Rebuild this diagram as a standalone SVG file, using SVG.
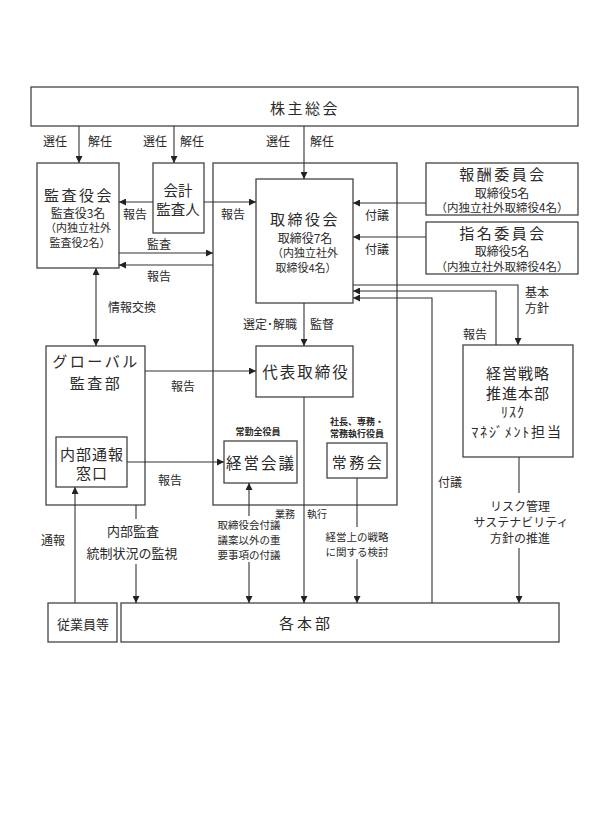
<svg xmlns="http://www.w3.org/2000/svg" width="608" height="820" viewBox="0 0 608 820">
<defs>
<marker id="ah" viewBox="0 0 8 8" refX="8" refY="4" markerWidth="7" markerHeight="7" markerUnits="userSpaceOnUse" orient="auto-start-reverse">
<path d="M0,0 L8,4 L0,8 z" fill="#222"/>
</marker>
<style>
.box{fill:#fff;stroke:#444;stroke-width:1.3}
.frame{fill:none;stroke:#444;stroke-width:1.3}
.ln{fill:none;stroke:#333;stroke-width:1.1}
.a{marker-end:url(#ah)}
.d{marker-start:url(#ah);marker-end:url(#ah)}
text{font-family:"Noto Sans CJK JP","Noto Sans",sans-serif;fill:#2a2a2a;text-anchor:middle;dominant-baseline:central}
.t1{font-size:15px;letter-spacing:2.5px}
.t2{font-size:12px}
.t3{font-size:11px}
.lb{font-size:12px}
.sm{font-size:10.5px}
.bd{font-size:9px;font-weight:bold}
</style>
</defs>
<rect width="608" height="820" fill="#fff"/>

<g id="frame-exec"><rect class="frame" x="213" y="163" width="184" height="342"/></g>

<g id="kabunushi"><rect class="box" x="31" y="87" width="547" height="39"/><text class="t1" x="305" y="107">株主総会</text></g>

<g id="kansayakukai"><rect class="box" x="37" y="163" width="82" height="105"/>
<text class="t1" x="79" y="194">監査役会</text>
<text class="t2" x="78" y="212">監査役3名</text>
<text class="t3" x="78" y="227">（内独立社外</text>
<text class="t3" x="80" y="242">監査役2名）</text></g>

<g id="kaikei"><rect class="box" x="153" y="163" width="51" height="70"/>
<text x="178" y="189" style="font-size:14.5px">会計</text>
<text x="178" y="208" style="font-size:14.5px">監査人</text></g>

<g id="torishimariyakukai"><rect class="box" x="256" y="179" width="97" height="124"/>
<text class="t1" x="305" y="218">取締役会</text>
<text class="t2" x="305" y="237">取締役7名</text>
<text class="t3" x="305" y="252">（内独立社外</text>
<text class="t3" x="306" y="267">取締役4名）</text></g>

<g id="hoshu"><rect class="box" x="426" y="163" width="152" height="52"/>
<text class="t1" x="503" y="173">報酬委員会</text>
<text class="t2" x="502" y="192">取締役5名</text>
<text x="502" y="207" style="font-size:11.5px">（内独立社外取締役4名）</text></g>

<g id="shimei"><rect class="box" x="426" y="222" width="152" height="52"/>
<text class="t1" x="503" y="232">指名委員会</text>
<text class="t2" x="502" y="250">取締役5名</text>
<text x="502" y="266" style="font-size:11.5px">（内独立社外取締役4名）</text></g>

<g id="daihyo"><rect class="box" x="256" y="346" width="97" height="51"/>
<text x="306" y="371" style="font-size:15.5px;letter-spacing:2px">代表取締役</text></g>

<g id="keieikaigi"><text class="bd" x="258" y="431">常勤全役員</text>
<rect class="box" x="224" y="441" width="73" height="42"/>
<text x="261" y="462" style="font-size:15.5px;letter-spacing:2px">経営会議</text></g>

<g id="jomukai"><text class="bd" x="357" y="421">社長、専務・</text>
<text class="bd" x="357" y="433">常務執行役員</text>
<rect class="box" x="327" y="443" width="60" height="35"/>
<text x="358" y="461" style="font-size:15px;letter-spacing:2.5px">常務会</text></g>

<g id="keieisenryaku"><rect class="box" x="463" y="345" width="110" height="112"/>
<text x="518" y="372" style="font-size:15px;letter-spacing:1px">経営戦略</text>
<text x="518" y="392" style="font-size:15px;letter-spacing:1px">推進本部</text>
<text x="513" y="411" style="font-size:14px;letter-spacing:1px">ﾘｽｸ</text>
<text x="517" y="431" style="font-size:14px;letter-spacing:1.8px">ﾏﾈｼﾞﾒﾝﾄ担当</text></g>

<g id="global"><rect class="box" x="46" y="346" width="99" height="159"/>
<text class="t1" x="96" y="360">グローバル</text>
<text class="t1" x="96" y="382">監査部</text></g>

<g id="naibutsuho"><rect class="box" x="56" y="437" width="71" height="50"/>
<text x="92" y="453" style="font-size:15px;letter-spacing:1px">内部通報</text>
<text x="92" y="472" style="font-size:15px;letter-spacing:1px">窓口</text></g>

<g id="jugyoin"><rect class="box" x="48" y="603" width="69" height="39"/>
<text x="83" y="623" style="font-size:13px">従業員等</text></g>

<g id="kakuhonbu"><rect class="box" x="121" y="603" width="438" height="39"/>
<text x="306" y="622" style="font-size:15px;letter-spacing:3px">各本部</text></g>

<g id="connectors">
<line class="ln a" x1="79" y1="126" x2="79" y2="163"/>
<line class="ln a" x1="174" y1="126" x2="174" y2="163"/>
<line class="ln a" x1="304" y1="126" x2="304" y2="179"/>
<line class="ln a" x1="153" y1="202" x2="119" y2="202"/>
<line class="ln a" x1="204" y1="202" x2="256" y2="202"/>
<line class="ln a" x1="119" y1="253" x2="213" y2="253"/>
<line class="ln a" x1="213" y1="265" x2="119" y2="265"/>
<line class="ln d" x1="96" y1="268" x2="96" y2="346"/>
<line class="ln a" x1="145" y1="371" x2="256" y2="371"/>
<line class="ln a" x1="127" y1="462" x2="224" y2="462"/>
<line class="ln a" x1="304" y1="303" x2="304" y2="346"/>
<line class="ln a" x1="304" y1="397" x2="304" y2="603"/>
<line class="ln" x1="357" y1="478" x2="357" y2="527"/>
<line class="ln a" x1="357" y1="559" x2="357" y2="603"/>
<line class="ln a" x1="249" y1="516" x2="249" y2="483"/>
<line class="ln a" x1="249" y1="562" x2="249" y2="603"/>
<line class="ln" x1="136" y1="505" x2="136" y2="519"/>
<line class="ln a" x1="136" y1="564" x2="136" y2="603"/>
<line class="ln a" x1="75" y1="603" x2="75" y2="487"/>
<line class="ln a" x1="426" y1="203" x2="353" y2="203"/>
<line class="ln a" x1="426" y1="237" x2="353" y2="237"/>
<polyline class="ln a" points="353,285 518,285 518,345"/>
<polyline class="ln a" points="496,345 496,291 353,291"/>
<polyline class="ln a" points="432,603 432,298 353,298"/>
<line class="ln" x1="519" y1="457" x2="519" y2="493"/>
<line class="ln a" x1="519" y1="548" x2="519" y2="603"/>
</g>

<g id="labels">
<text class="lb" x="55" y="140">選任</text>
<text class="lb" x="100" y="140">解任</text>
<text class="lb" x="155" y="140">選任</text>
<text class="lb" x="192" y="140">解任</text>
<text class="lb" x="278" y="140">選任</text>
<text class="lb" x="322" y="140">解任</text>
<text class="lb" x="135" y="213">報告</text>
<text class="lb" x="233" y="213">報告</text>
<text class="lb" x="159" y="243">監査</text>
<text class="lb" x="159" y="275">報告</text>
<text class="lb" x="132" y="306">情報交換</text>
<text class="lb" x="183" y="385">報告</text>
<text class="lb" x="270" y="323">選定･解職</text>
<text class="lb" x="322" y="323">監督</text>
<text class="lb" x="170" y="479">報告</text>
<text x="285" y="513" style="font-size:10px">業務</text>
<text x="317" y="513" style="font-size:10px">執行</text>
<text class="sm" x="357" y="536">経営上の戦略</text>
<text class="sm" x="357" y="551">に関する検討</text>
<text class="sm" x="249" y="524">取締役会付議</text>
<text class="sm" x="249" y="539">議案以外の重</text>
<text class="sm" x="249" y="554">要事項の付議</text>
<text x="133" y="530" style="font-size:13px">内部監査</text>
<text x="132" y="552" style="font-size:13px">統制状況の監視</text>
<text class="lb" x="53" y="539">通報</text>
<text class="lb" x="377" y="214">付議</text>
<text class="lb" x="377" y="248">付議</text>
<text class="lb" x="537" y="291">基本</text>
<text class="lb" x="537" y="307">方針</text>
<text class="lb" x="475" y="333">報告</text>
<text class="lb" x="450" y="481">付議</text>
<text x="520" y="505" style="font-size:12px">リスク管理</text>
<text x="521" y="521" style="font-size:12px">サステナビリティ</text>
<text x="520" y="537" style="font-size:12px">方針の推進</text>
</g>
</svg>
